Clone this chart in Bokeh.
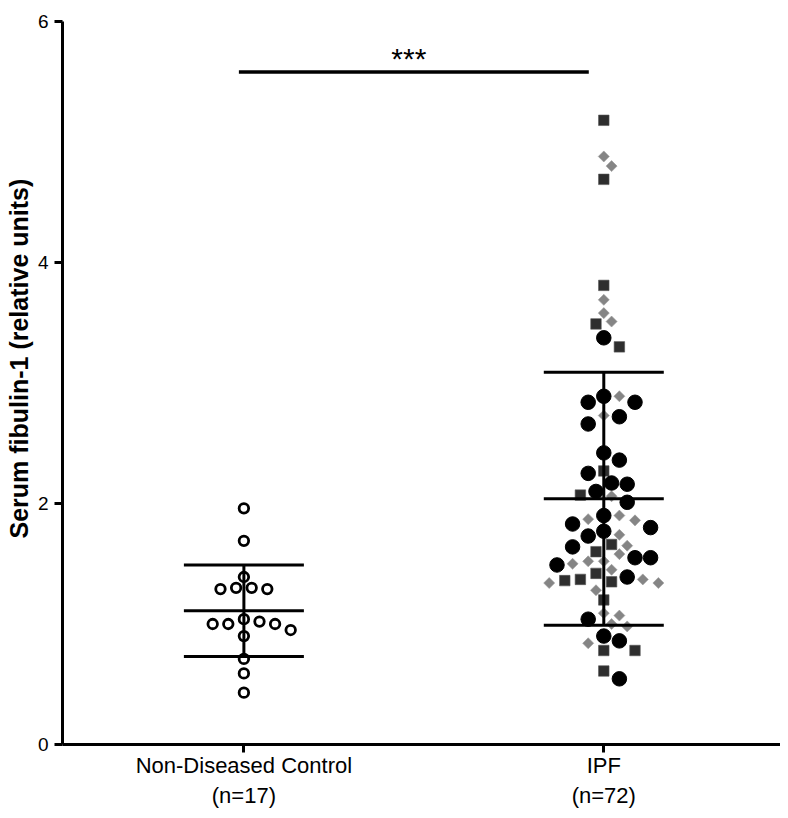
import math
from bokeh.plotting import figure
from bokeh.models import FixedTicker, Label, Title
from bokeh.embed import file_html
from bokeh.resources import INLINE

# ---------------- data ----------------
group_pos = [1, 2]
tick_labels = ["Non-Diseased Control\n(n=17)", "IPF\n(n=72)"]
y_ticks = [0, 2, 4, 6]
y_label = "Serum fibulin-1 (relative units)"

control_vals = [1.96, 1.69, 1.39, 1.30, 1.29, 1.29, 1.30, 1.04, 1.02,
                1.00, 1.00, 1.00, 0.95, 0.90, 0.71, 0.59, 0.43]

ipf_circle_vals = [3.375, 2.89, 2.84, 2.84, 2.72, 2.66, 2.42, 2.36, 2.25,
                   2.17, 2.16, 2.10, 2.01, 1.90, 1.83, 1.80, 1.77, 1.73,
                   1.64, 1.55, 1.55, 1.49, 1.39, 1.04, 0.90, 0.86, 0.545]
ipf_square_vals = [5.18, 4.69, 3.81, 3.49, 3.30, 2.27, 2.07, 1.66, 1.60,
                   1.42, 1.37, 1.36, 1.35, 1.20, 0.78, 0.78, 0.61]
ipf_diamond_vals = [4.88, 4.80, 3.69, 3.58, 3.51, 2.89, 2.73, 2.06, 1.90,
                    1.87, 1.86, 1.74, 1.65, 1.58, 1.52, 1.52, 1.50, 1.45,
                    1.37, 1.34, 1.34, 1.28, 1.09, 1.07, 1.00, 0.98, 0.84]

group_mean = [1.11, 2.04]
group_sd = [0.38, 1.05]
sig_text = "***"
sig_level = 5.58

# ---------------- layout ----------------
W, H = 780, 810
BL, BR, BT, BB = 62, 0, 21, 66
x0, x1 = 0.496, 2.491
y0, y1 = 0, 6
px_x = (W - BL - BR) / (x1 - x0)
px_y = (H - BT - BB) / (y1 - y0)

p = figure(width=W, height=H, x_range=(x0, x1), y_range=(y0, y1),
           output_backend="svg", toolbar_location=None,
           min_border_left=BL, min_border_right=BR,
           min_border_top=BT, min_border_bottom=BB)
p.outline_line_color = None
p.grid.grid_line_color = None
p.background_fill_color = "white"
p.border_fill_color = "white"


def swarm(vals, radii, step=7.8, gap=1.0):
    """Greedy beeswarm: horizontal offsets (px) for each value."""
    order = sorted(range(len(vals)), key=lambda i: -vals[i])
    placed = []
    offs = [0.0] * len(vals)
    k_list = [0]
    for k in range(1, 40):
        k_list += [k, -k]
    for i in order:
        yp = vals[i] * px_y
        xp = 0.0
        for k in k_list:
            xp = k * step
            ok = True
            for (qx, qy, qr) in placed:
                d = radii[i] + qr + gap
                if (xp - qx) ** 2 + (yp - qy) ** 2 < d * d:
                    ok = False
                    break
            if ok:
                break
        placed.append((xp, yp, radii[i]))
        offs[i] = xp
    return offs


# control group
c_off = swarm(control_vals, [6.0] * len(control_vals))
p.scatter(x=[group_pos[0] + o / px_x for o in c_off], y=control_vals,
          marker="circle", size=9.5, fill_color="white",
          line_color="black", line_width=2.8)

# IPF group (three sub-groups swarmed together)
all_vals = ipf_circle_vals + ipf_square_vals + ipf_diamond_vals
radii = ([7.0] * len(ipf_circle_vals) + [5.6] * len(ipf_square_vals)
         + [5.2] * len(ipf_diamond_vals))
offs = swarm(all_vals, radii)
n1 = len(ipf_circle_vals)
n2 = n1 + len(ipf_square_vals)
xs = [group_pos[1] + o / px_x for o in offs]

p.scatter(x=xs[n2:], y=ipf_diamond_vals, marker="square", angle=math.pi / 4,
          size=7.8, fill_color="#858585", line_color="#9a9a9a", line_width=0.6)
p.scatter(x=xs[n1:n2], y=ipf_square_vals, marker="square", size=10.5,
          fill_color="#2e2e2e", line_color="#555555", line_width=0.6)
p.scatter(x=xs[:n1], y=ipf_circle_vals, marker="circle", size=14.5,
          fill_color="black", line_color="black")

# mean +/- SD bars
hw = 60 / px_x
sx0, sx1, sy0, sy1 = [], [], [], []
for g, m, s in zip(group_pos, group_mean, group_sd):
    for yy in (m - s, m, m + s):
        sx0.append(g - hw); sx1.append(g + hw); sy0.append(yy); sy1.append(yy)
    sx0.append(g); sx1.append(g); sy0.append(m - s); sy1.append(m + s)
p.segment(x0=sx0, y0=sy0, x1=sx1, y1=sy1, line_color="black",
          line_width=3, line_cap="butt")

# significance bar
bar_x0 = group_pos[0] - 5 / px_x
bar_x1 = group_pos[1] - 15 / px_x
p.segment(x0=[bar_x0], y0=[sig_level], x1=[bar_x1], y1=[sig_level],
          line_color="black", line_width=3.5)
p.add_layout(Label(x=(bar_x0 + bar_x1) / 2 - 5 / px_x, y=sig_level + 14 / px_y,
                   text=sig_text, text_align="center",
                   text_baseline="alphabetic", text_font="Liberation Sans",
                   text_font_size="30px", text_color="black"))

# y-axis label as a side title (placed like the reference)
ytitle = Title(text=y_label, align="left", offset=206,
               text_font="Liberation Sans", text_font_style="bold",
               text_font_size="25px", text_color="black", standoff=4)
p.add_layout(ytitle, "left")

# axes
for ax in (p.xaxis[0], p.yaxis[0]):
    ax.axis_line_width = 3
    ax.axis_line_color = "black"
    ax.major_tick_line_width = 3
    ax.major_tick_line_color = "black"
    ax.major_tick_out = 8
    ax.major_tick_in = 0
    ax.minor_tick_line_color = None
    ax.major_label_text_font = "Liberation Sans"
    ax.major_label_text_color = "black"

p.yaxis.ticker = FixedTicker(ticks=y_ticks)
p.yaxis.major_label_text_font_size = "19px"
p.yaxis.major_label_standoff = 6

p.xaxis.ticker = FixedTicker(ticks=group_pos)
p.xaxis.major_label_overrides = {g: t for g, t in zip(group_pos, tick_labels)}
p.xaxis.major_label_text_font_size = "22px"
p.xaxis.major_label_standoff = 0

open("out.html", "w").write(file_html(p, INLINE))
